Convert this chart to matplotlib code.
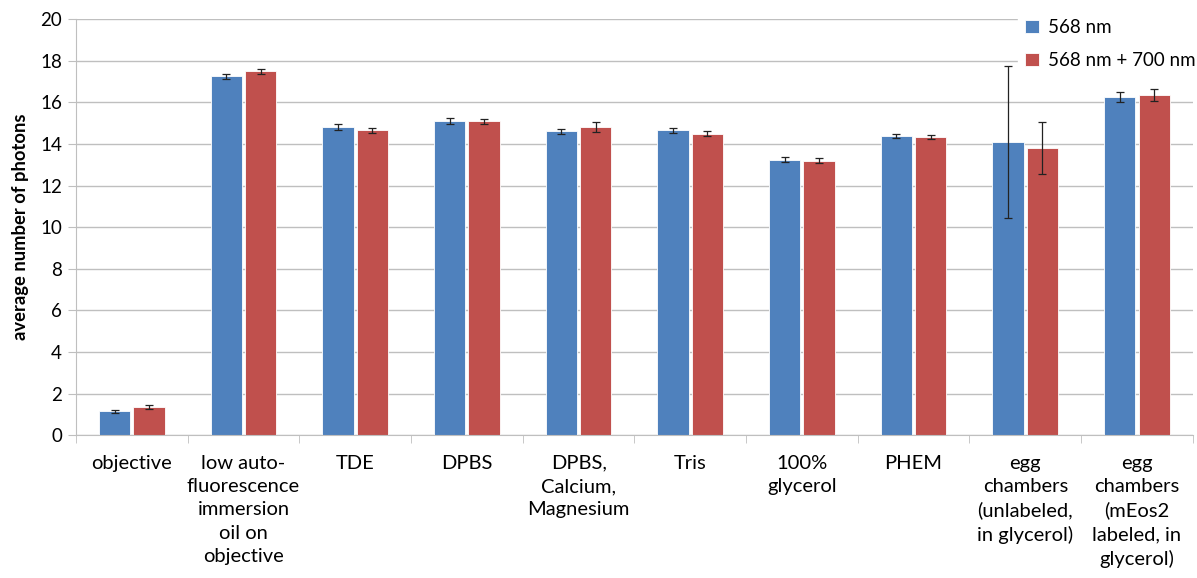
import matplotlib
matplotlib.use('Agg')
import matplotlib.pyplot as plt
import numpy as np

plt.rcParams['font.family'] = ['Lato', 'DejaVu Sans']

categories = ['objective',
              'low auto-\nfluorescence\nimmersion\noil on\nobjective',
              'TDE', 'DPBS', 'DPBS,\nCalcium,\nMagnesium', 'Tris',
              '100%\nglycerol', 'PHEM',
              'egg\nchambers\n(unlabeled,\nin glycerol)',
              'egg\nchambers\n(mEos2\nlabeled, in\nglycerol)']
nm568 = [1.15, 17.25, 14.8, 15.1, 14.6, 14.65, 13.25, 14.4, 14.1, 16.25]
nm568_err = [0.08, 0.12, 0.15, 0.13, 0.1, 0.12, 0.13, 0.1, 3.65, 0.25]
nm568_700 = [1.35, 17.5, 14.65, 15.1, 14.8, 14.5, 13.2, 14.35, 13.8, 16.35]
nm568_700_err = [0.08, 0.12, 0.12, 0.12, 0.25, 0.12, 0.1, 0.1, 1.25, 0.3]

BLUE = '#4F81BD'
RED = '#C0504D'
GRID = '#BFBFBF'

fig = plt.figure(figsize=(11.97, 5.78), dpi=100)
ax = fig.add_axes([0.0635, 0.247, 0.933, 0.72])

x = np.arange(len(categories))
w = 0.28
off = w / 2 + 0.014
err_kw = dict(ecolor='#222222', elinewidth=0.9, capsize=3, capthick=0.9)
ax.bar(x - off, nm568, w, color=BLUE, edgecolor='white', linewidth=0.6,
       yerr=nm568_err, error_kw=err_kw, label='568 nm', zorder=2)
ax.bar(x + off, nm568_700, w, color=RED, edgecolor='white', linewidth=0.6,
       yerr=nm568_700_err, error_kw=err_kw, label='568 nm + 700 nm', zorder=2)

ax.set_xlim(-0.5, len(categories) - 0.5)
ax.set_ylim(0, 20)
ax.set_yticks(np.arange(0, 21, 2))
ax.yaxis.grid(True, color=GRID, linewidth=1, zorder=0)
ax.set_axisbelow(True)

ax.set_xticks(x)
ax.set_xticklabels(categories, fontsize=14.5, linespacing=1.45, va='top')
ax.tick_params(axis='x', length=0, pad=14)
ax.set_xticks(np.arange(-0.5, len(categories), 1), minor=True)
ax.tick_params(axis='x', which='minor', length=6, color=GRID, direction='out')
ax.tick_params(axis='y', labelsize=13.5, length=6, color=GRID, direction='out', pad=4)

for s in ['top', 'right']:
    ax.spines[s].set_visible(False)
for s in ['left', 'bottom']:
    ax.spines[s].set_color(GRID)

ax.set_ylabel('average number of photons', fontsize=13.2, fontweight='bold', labelpad=8)

leg = ax.legend(loc='upper left', bbox_to_anchor=(0.835, 1.04), frameon=True,
                fontsize=13.5, handlelength=0.7, handleheight=0.7,
                labelspacing=0.85, handletextpad=0.5, borderpad=0.4)
leg.get_frame().set_facecolor('white')
leg.get_frame().set_edgecolor('white')
leg.get_frame().set_alpha(1)
leg.get_frame().set_boxstyle('square', pad=0)

fig.savefig('out.png', dpi=100)
